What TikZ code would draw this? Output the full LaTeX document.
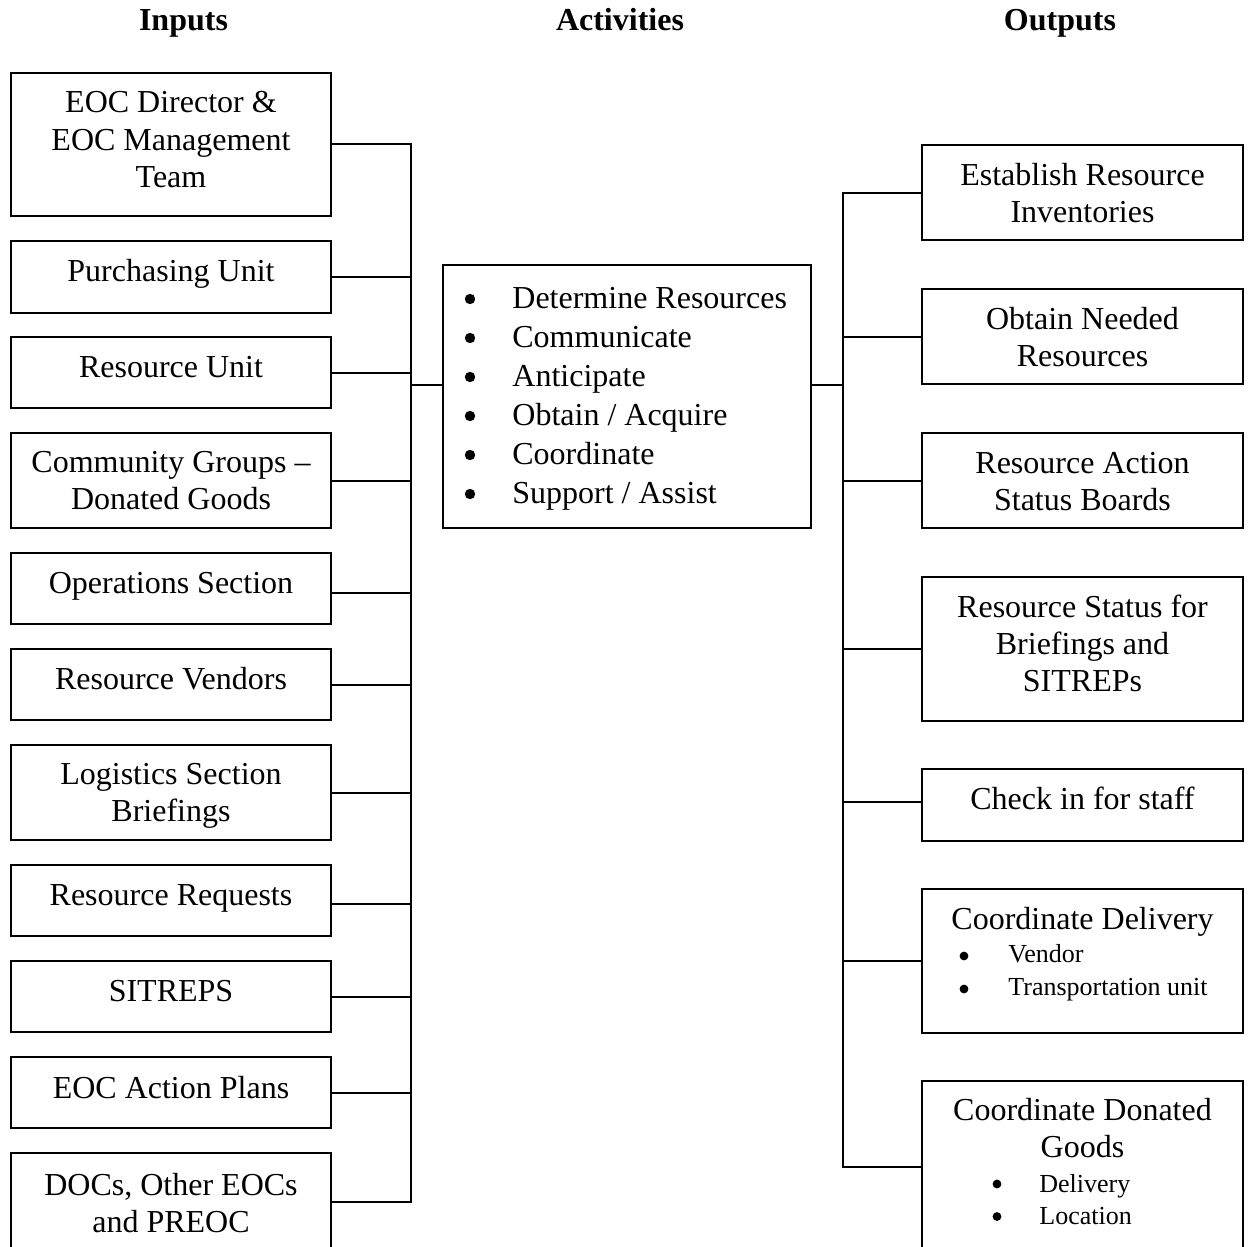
\documentclass[tikz,border=0pt]{standalone}
\usepackage{fontspec}
\setmainfont{Liberation Serif}
% centred block of lines whose baseline is that of its first line
\newcommand\stacklines[1]{\vtop{\halign{\hfil##\hfil\cr#1\crcr}}}
\begin{document}
\begin{tikzpicture}[x=0.5pt, y=-0.5pt,
  box/.style={draw, line width=1pt, inner sep=0pt},
  inbox/.style={box, minimum width=160pt},
  outbox/.style={box, minimum width=160.5pt},
  txt/.style={inner sep=0pt, anchor=base, font=\fontsize{16pt}{18.6pt}\selectfont},
  head/.style={inner sep=0pt, anchor=base, font=\fontsize{16pt}{18.6pt}\selectfont\bfseries},
  bul/.style={circle, fill, inner sep=0pt, minimum size=5.2pt},
  item/.style={inner sep=0pt, anchor=base west, font=\fontsize{16pt}{18.6pt}\selectfont},
  sbul/.style={circle, fill, inner sep=0pt, minimum size=4.4pt},
  sitem/.style={inner sep=0pt, anchor=base west, font=\fontsize{13pt}{16pt}\selectfont},
  link/.style={line width=1pt}]
\useasboundingbox (0,0) rectangle (1248,1247);
\clip (0,0) rectangle (1248,1247);

% column headings
\node[head] (hin)  at (183.5,31) {Inputs};
\node[head] (hact) at (620,31) {Activities};
\node[head] (hout) at (1060,31) {Outputs};

% inputs
\node[inbox, minimum height=71.5pt] (in1)  at (171,144.5) {};
\node[inbox, minimum height=36pt]   (in2)  at (171,277) {};
\node[inbox, minimum height=35.5pt] (in3)  at (171,372.5) {};
\node[inbox, minimum height=47.5pt] (in4)  at (171,480.5) {};
\node[inbox, minimum height=35.5pt] (in5)  at (171,588.5) {};
\node[inbox, minimum height=35.5pt] (in6)  at (171,684.5) {};
\node[inbox, minimum height=47.5pt] (in7)  at (171,792.5) {};
\node[inbox, minimum height=35.5pt] (in8)  at (171,900.5) {};
\node[inbox, minimum height=35.5pt] (in9)  at (171,996.5) {};
\node[inbox, minimum height=35.5pt] (in10) at (171,1092.5) {};
\node[inbox, minimum height=48.5pt] (in11) at (171,1201.5) {};

\node[txt] (in1t)  at (171,113)  {\stacklines{EOC Director \&\cr EOC Management\cr Team}};
\node[txt] (in2t)  at (171,281)  {Purchasing Unit};
\node[txt] (in3t)  at (171,377)  {Resource Unit};
\node[txt] (in4t)  at (171,472)  {\stacklines{Community Groups --\cr Donated Goods}};
\node[txt] (in5t)  at (171,593)  {Operations Section};
\node[txt] (in6t)  at (171,689)  {Resource Vendors};
\node[txt] (in7t)  at (171,784)  {\stacklines{Logistics Section\cr Briefings}};
\node[txt] (in8t)  at (171,905)  {Resource Requests};
\node[txt] (in9t)  at (171,1001) {SITREPS};
\node[txt] (in10t) at (171,1098) {EOC Action Plans};
\node[txt] (in11t) at (171,1195) {\stacklines{DOCs, Other EOCs\cr and PREOC}};

% activities
\node[box, minimum width=184pt, minimum height=131.5pt] (act) at (627,396.5) {};
\foreach \t [count=\k from 0] in {{Determine Resources}, {Communicate}, {Anticipate},
    {Obtain / Acquire}, {Coordinate}, {Support / Assist}} {
  \node[bul]  (actb\k) at (470,299+39*\k) {};
  \node[item] (acti\k) at (512,308+39*\k) {\t};
}

% outputs
\node[outbox, minimum height=47.5pt] (out1) at (1082.5,192.5) {};
\node[outbox, minimum height=47.5pt] (out2) at (1082.5,336.5) {};
\node[outbox, minimum height=47.5pt] (out3) at (1082.5,480.5) {};
\node[outbox, minimum height=72pt]   (out4) at (1082.5,649) {};
\node[outbox, minimum height=36pt]   (out5) at (1082.5,805) {};
\node[outbox, minimum height=72pt]   (out6) at (1082.5,961) {};
\node[outbox, minimum height=86pt]   (out7) at (1082.5,1167) {};

\node[txt] (out1t) at (1082.5,185) {\stacklines{Establish Resource\cr Inventories}};
\node[txt] (out2t) at (1082.5,329) {\stacklines{Obtain Needed\cr Resources}};
\node[txt] (out3t) at (1082.5,473) {\stacklines{Resource Action\cr Status Boards}};
\node[txt] (out4t) at (1082.5,617) {\stacklines{Resource Status for\cr Briefings and\cr SITREPs}};
\node[txt] (out5t) at (1082.5,809) {Check in for staff};
\node[txt] (out6t) at (1082.5,929) {Coordinate Delivery};
\node[sbul]  (out6b1) at (964,956)  {};
\node[sitem] (out6i1) at (1008,962) {Vendor};
\node[sbul]  (out6b2) at (964,989)  {};
\node[sitem] (out6i2) at (1008,995) {Transportation unit};
\node[txt] (out7t) at (1082.5,1120) {\stacklines{Coordinate Donated\cr Goods}};
\node[sbul]  (out7b1) at (997,1184)   {};
\node[sitem] (out7i1) at (1039,1192)  {Delivery};
\node[sbul]  (out7b2) at (997,1216.5) {};
\node[sitem] (out7i2) at (1039,1224)  {Location};

% connector buses
\coordinate (lbus) at (411,0);
\coordinate (rbus) at (843,0);
\coordinate (tie)  at (0,385);

\draw[link] (in1.east) -| (lbus |- in11.east) -- (in11.east);
\foreach \n in {in2,in3,in4,in6,in7,in9,in10}
  \draw[link] (\n.east) -- (\n.east -| lbus);
\draw[link] ([yshift=-2.25pt]in5.east) -- ([yshift=-2.25pt]in5.east -| lbus);
\draw[link] ([yshift=-1.75pt]in8.east) -- ([yshift=-1.75pt]in8.east -| lbus);
\draw[link] (lbus |- tie) -- (act.west |- tie);

\draw[link] (out1.west) -| (rbus |- out7.west) -- (out7.west);
\foreach \n in {out2,out3,out4,out6}
  \draw[link] (\n.west) -- (\n.west -| rbus);
\draw[link] ([yshift=1.35pt]out5.west) -- ([yshift=1.35pt]out5.west -| rbus);
\draw[link] (act.east |- tie) -- (rbus |- tie);
\end{tikzpicture}
\end{document}
